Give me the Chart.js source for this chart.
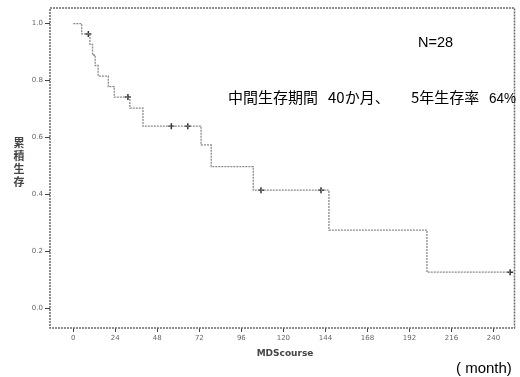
<!DOCTYPE html>
<html>
<head>
<meta charset="utf-8">
<script src="https://cdn.jsdelivr.net/npm/chart.js@4"></script>
<style>
  html, body { margin: 0; padding: 0; background: #fff; }
  #wrap { width: 520px; height: 377px; position: relative; }
</style>
</head>
<body>
<div id="wrap"><canvas id="kmChart" width="520" height="377"></canvas></div>
<script>
// survival steps (months, cumulative survival after each event)
var stepMonths = [0, 4.8, 9.5, 11.0, 12.5, 14.2, 20.0, 23.4, 32.3, 39.8, 73.0, 78.8, 102.8, 146.0, 202.0, 249.5];
var stepSurvival = [1.0, 0.964, 0.927, 0.890, 0.853, 0.816, 0.779, 0.742, 0.703, 0.640, 0.574, 0.498, 0.415, 0.275, 0.127, 0.127];

// censored cases
var censorMonths = [8.6, 31.2, 56.0, 65.4, 107.2, 141.5, 249.5];
var censorSurvival = [0.964, 0.742, 0.640, 0.640, 0.415, 0.415, 0.127];

var xTicks = [0, 24, 48, 72, 96, 120, 144, 168, 192, 216, 240];
var yTicks = [0, 0.2, 0.4, 0.6, 0.8, 1.0];

var yTitleChars = ["累", "積", "生", "存"];
var xTitle = "MDScourse";
var unitLabel = "( month)";
var nLabel = "N=28";
var summaryParts = ["中間生存期間", "40か月、", "5年生存率", "64%"];

(function () {
  function pairs(xs, ys) {
    var out = [];
    for (var i = 0; i < xs.length; i++) {
      out.push({ x: xs[i], y: ys[i] });
    }
    return out;
  }

  var frameAndText = {
    id: "frameAndText",
    afterDraw: function (chart) {
      var ctx = chart.ctx;
      var a = chart.chartArea;
      ctx.save();
      ctx.strokeStyle = "#6a6a6a";
      ctx.lineWidth = 1.5;
      ctx.setLineDash([2, 1]);
      ctx.strokeRect(a.left, a.top, a.right - a.left, a.bottom - a.top);
      ctx.setLineDash([]);

      ctx.fillStyle = "#000";
      ctx.textBaseline = "middle";
      ctx.textAlign = "left";
      ctx.font = "14.5px 'Liberation Sans', Arial, sans-serif";
      ctx.fillText(nLabel, 418, 43);

      // summary line, laid out piece by piece on a shared baseline
      var partX = [228, 328, 411, 489];
      var partW = [92, 72, 76, 27];
      ctx.textBaseline = "alphabetic";
      for (var p = 0; p < summaryParts.length; p++) {
        ctx.font = p === 3 ? "14px 'Liberation Sans', Arial, sans-serif"
                           : "15px 'Noto Sans CJK JP', sans-serif";
        ctx.fillText(summaryParts[p], partX[p], 103, partW[p]);
      }
      ctx.textBaseline = "middle";

      ctx.font = "15px 'Liberation Sans', Arial, sans-serif";
      ctx.fillText(unitLabel, 456, 369);

      ctx.fillStyle = "#444";
      ctx.font = "bold 9px 'DejaVu Sans', sans-serif";
      ctx.textAlign = "center";
      ctx.fillText(xTitle, 285, 354);

      ctx.font = "bold 11px 'Noto Sans CJK JP', sans-serif";
      for (var i = 0; i < yTitleChars.length; i++) {
        ctx.fillText(yTitleChars[i], 19, 143 + i * 13);
      }
      ctx.restore();
    }
  };

  new Chart(document.getElementById("kmChart"), {
    type: "line",
    data: {
      datasets: [{
        label: "survival",
        data: pairs(stepMonths, stepSurvival),
        stepped: true,
        borderColor: "#8a8a8a",
        borderWidth: 1.3,
        borderDash: [2, 1],
        pointRadius: 0,
        fill: false
      }, {
        type: "scatter",
        label: "censored",
        data: pairs(censorMonths, censorSurvival),
        pointStyle: "cross",
        pointRadius: 3,
        borderColor: "#333",
        borderWidth: 1.5,
        showLine: false
      }]
    },
    options: {
      responsive: false,
      animation: false,
      layout: { padding: { top: 8, right: 3, left: 0, bottom: 0 } },
      plugins: {
        legend: { display: false },
        tooltip: { enabled: false }
      },
      scales: {
        x: {
          type: "linear",
          min: -13.3,
          max: 252,
          afterBuildTicks: function (scale) {
            scale.ticks = xTicks.map(function (v) { return { value: v }; });
          },
          afterFit: function (scale) { scale.height = 49; },
          border: { display: false },
          grid: { drawOnChartArea: false, tickLength: 4, color: "#444" },
          ticks: { color: "#666", font: { size: 7, family: "DejaVu Sans" }, padding: 2, maxRotation: 0 }
        },
        y: {
          min: -0.069,
          max: 1.055,
          afterBuildTicks: function (scale) {
            scale.ticks = yTicks.map(function (v) { return { value: v }; });
          },
          afterFit: function (scale) { scale.width = 50; },
          border: { display: false },
          grid: { drawOnChartArea: false, tickLength: 5, color: "#444" },
          ticks: {
            color: "#666",
            font: { size: 7, family: "DejaVu Sans" },
            padding: 2,
            callback: function (v) { return Number(v).toFixed(1); }
          }
        }
      }
    },
    plugins: [frameAndText]
  });
})();
</script>
</body>
</html>
